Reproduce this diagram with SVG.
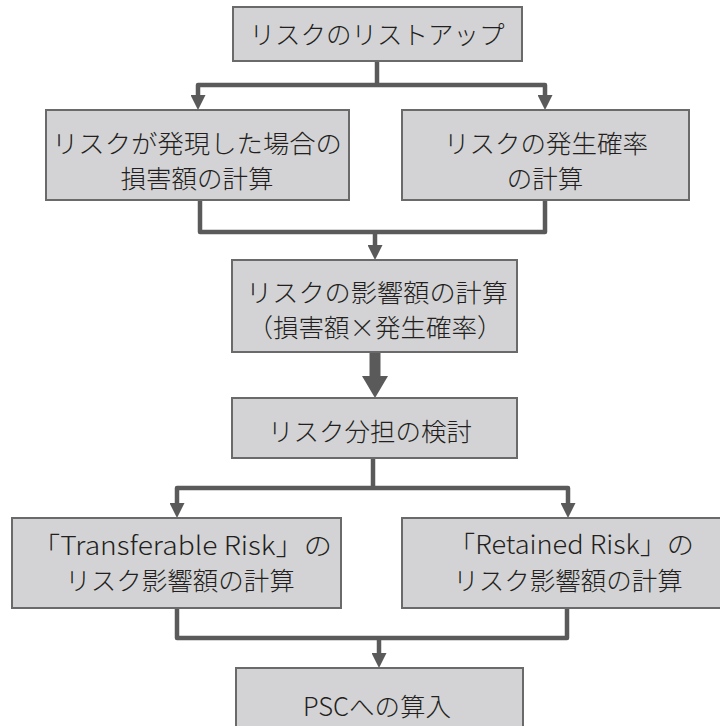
<svg xmlns="http://www.w3.org/2000/svg" width="720" height="726" viewBox="0 0 720 726">
<style>
.box{fill:#d3d3d5;stroke:#6a6a6a;stroke-width:2}
.t{font-family:"Noto Sans CJK JP","Noto Sans",sans-serif;font-size:25.5px;font-weight:300;fill:#231f20;text-anchor:middle}
.c{fill:none;stroke:#5a5a5a;stroke-width:4.5;stroke-linejoin:round}
.ct{fill:none;stroke:#5a5a5a;stroke-width:11}
</style>
<defs>
<marker id="ah" markerUnits="userSpaceOnUse" markerWidth="15" markerHeight="15" refX="0" refY="7.5" orient="auto-start-reverse" viewBox="0 0 15 15">
<path d="M0,0 L15,7.5 L0,15 z" fill="#5a5a5a"/>
</marker>
<marker id="ahb" markerUnits="userSpaceOnUse" markerWidth="22" markerHeight="26" refX="0" refY="13" orient="auto" viewBox="0 0 22 26">
<path d="M0,0 L22,13 L0,26 z" fill="#5a5a5a"/>
</marker>
</defs>
<g id="connectors">
<path class="c" d="M377,61 V85"/>
<path class="c" d="M198,95 V85 H545 V95" marker-start="url(#ah)" marker-end="url(#ah)"/>
<path class="c" d="M200,200 V232 H545 V200"/>
<path class="c" d="M375,232 V245" marker-end="url(#ah)"/>
<path class="ct" d="M375,352 V376" marker-end="url(#ahb)"/>
<path class="c" d="M373,458 V488"/>
<path class="c" d="M177,503 V488 H568 V503" marker-start="url(#ah)" marker-end="url(#ah)"/>
<path class="c" d="M177,608 V638 H567 V608"/>
<path class="c" d="M379,638 V653" marker-end="url(#ah)"/>
</g>
<g id="n1">
<rect class="box" x="233" y="7" width="289" height="54"/>
<text class="t" x="377" y="44">リスクのリストアップ</text>
</g>
<g id="n2">
<rect class="box" x="46" y="110" width="303" height="90"/>
<text class="t" x="197" y="153" textLength="290" lengthAdjust="spacingAndGlyphs">リスクが発現した場合の</text>
<text class="t" x="197" y="188">損害額の計算</text>
</g>
<g id="n3">
<rect class="box" x="402" y="110" width="287" height="90"/>
<text class="t" x="546" y="153">リスクの発生確率</text>
<text class="t" x="545" y="188">の計算</text>
</g>
<g id="n4">
<rect class="box" x="232" y="260" width="285" height="92"/>
<text class="t" x="377" y="302" textLength="262" lengthAdjust="spacingAndGlyphs">リスクの影響額の計算</text>
<text class="t" x="375" y="337">（損害額×発生確率）</text>
</g>
<g id="n5">
<rect class="box" x="232" y="398" width="285" height="60"/>
<text class="t" x="370" y="441">リスク分担の検討</text>
</g>
<g id="n6">
<rect class="box" x="12" y="518" width="329" height="90"/>
<text class="t" x="182" y="555" textLength="300" lengthAdjust="spacingAndGlyphs">「Transferable Risk」の</text>
<text class="t" x="180" y="590">リスク影響額の計算</text>
</g>
<g id="n7">
<rect class="box" x="402" y="518" width="320" height="90"/>
<text class="t" x="571" y="554" textLength="246" lengthAdjust="spacingAndGlyphs">「Retained Risk」の</text>
<text class="t" x="568" y="590">リスク影響額の計算</text>
</g>
<g id="n8">
<rect class="box" x="236" y="668" width="287" height="62"/>
<text class="t" x="377" y="716">PSCへの算入</text>
</g>
</svg>
